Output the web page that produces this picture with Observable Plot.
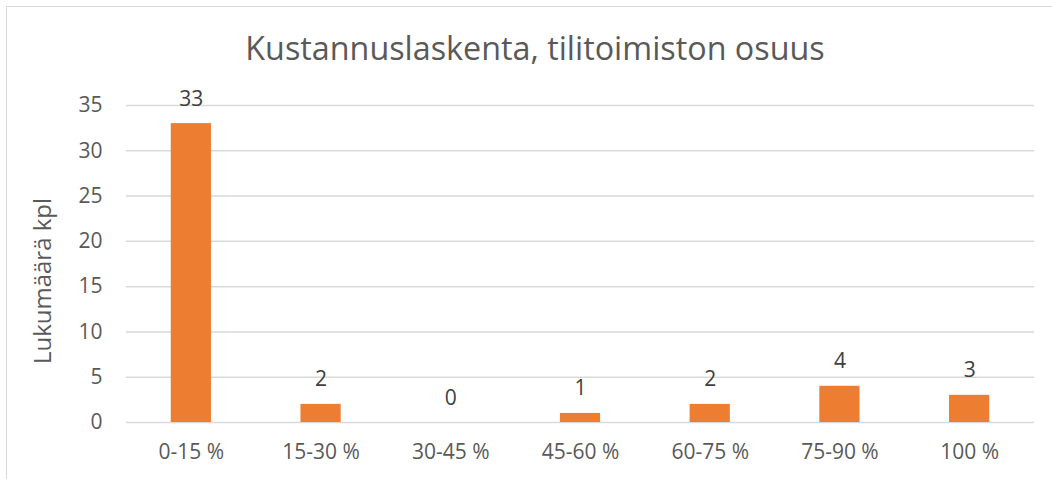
<!DOCTYPE html>
<html>
<head>
<meta charset="utf-8">
<script src="https://cdn.jsdelivr.net/npm/d3@7"></script>
<script src="https://cdn.jsdelivr.net/npm/@observablehq/plot@0.6"></script>
<style>
  html, body { margin: 0; padding: 0; background: #fff; overflow: hidden; }
  #wrap { position: relative; width: 1052px; height: 479px; overflow: hidden; font-family: "Open Sans", sans-serif; color: #595959; }
  #frame { position: absolute; left: 6px; top: 6px; width: 2000px; height: 2000px; border: 1.5px solid #d9d9d9; box-sizing: border-box; }
  #title { position: absolute; left: 535px; top: 31px; transform: translateX(-50%); white-space: nowrap; font-size: 32.3px; line-height: 1; }
  #ylabel { position: absolute; left: 42px; top: 281px; transform: translate(-50%, -50%) rotate(-90deg); white-space: nowrap; font-size: 24px; line-height: 1; }
  #chart { position: absolute; left: 0; top: 0; }
</style>
</head>
<body>
<div id="wrap">
  <div id="frame"></div>
  <div id="chart"></div>
  <div id="title">Kustannuslaskenta, tilitoimiston osuus</div>
  <div id="ylabel">Lukumäärä kpl</div>
</div>
<script>
const categories = ["0-15 %", "15-30 %", "30-45 %", "45-60 %", "60-75 %", "75-90 %", "100 %"];
const values = [33, 2, 0, 1, 2, 4, 3];
const yTicks = [0, 5, 10, 15, 20, 25, 30, 35];

const data = categories.map((c, i) => ({category: c, value: values[i]}));

const chart = Plot.plot({
  width: 1052,
  height: 479,
  marginLeft: 126,
  marginRight: 18,
  marginTop: 105,
  marginBottom: 57,
  style: {fontFamily: "Open Sans, sans-serif", color: "#595959", background: "transparent"},
  x: {domain: categories, paddingInner: 0.69, paddingOuter: 0.345, round: false, label: null},
  y: {domain: [0, 35], label: null},
  marks: [
    Plot.gridY(yTicks, {stroke: "#d9d9d9", strokeOpacity: 1, strokeWidth: 1.5}),
    Plot.barY(data, {x: "category", y: "value", fill: "#ed7d31"}),
    Plot.text(data, {x: "category", y: "value", text: d => String(d.value), lineAnchor: "bottom", dy: -18, fontSize: 21, fill: "#404040"}),
    Plot.axisY(yTicks, {tickSize: 0, tickPadding: 24, fontSize: 21, label: null, fill: "#595959"}),
    Plot.axisX({tickSize: 0, tickPadding: 22, fontSize: 21, label: null, fill: "#595959"})
  ]
});
document.getElementById("chart").appendChild(chart);
</script>
</body>
</html>
